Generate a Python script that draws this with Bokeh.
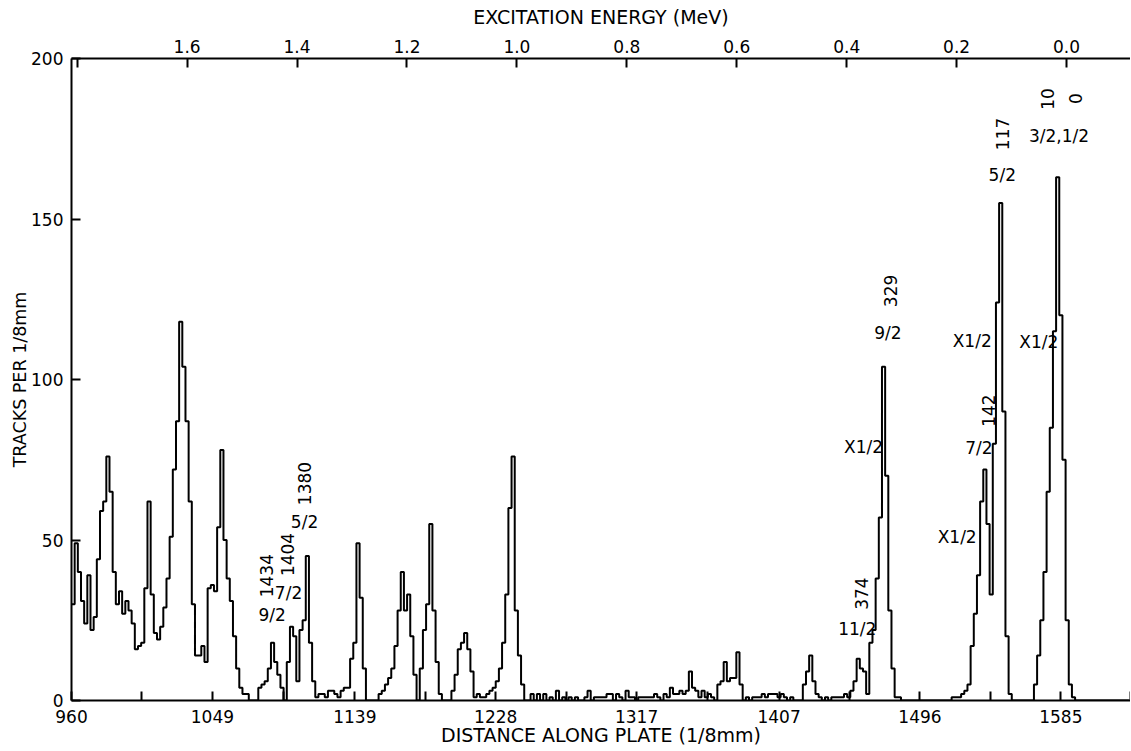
import math
from bokeh.plotting import figure
from bokeh.models import Range1d, LinearAxis, FixedTicker, ColumnDataSource
from bokeh.embed import file_html
from bokeh.resources import INLINE
from bokeh.core.properties import value

# ---------------- data ----------------
bin_start = 960.0      # first bin edge (1/8 mm)
bin_width = 2.0        # bin width (1/8 mm)
counts = [
    30, 49, 40, 31, 24, 39, 22, 26, 44, 59, 62, 76, 65, 40, 30, 34, 27, 31, 28, 24,
    16, 17, 18, 35, 62, 33, 21, 19, 23, 29, 38, 51, 72, 87, 118, 104, 87, 62, 30, 14,
    14, 17, 12, 35, 36, 34, 54, 78, 50, 38, 31, 20, 10, 4, 2, 2, 0, 0, 0, 4,
    5, 6, 10, 18, 12, 8, 4, 0, 12, 23, 20, 6, 22, 25, 45, 18, 6, 1, 2,
    2, 1, 3, 3, 2, 1, 3, 4, 4, 13, 18, 49, 32, 10, 0, 0, 0, 0, 2, 3,
    5, 7, 10, 17, 28, 40, 28, 33, 20, 8, 0, 10, 22, 30, 55, 28, 12, 2, 0, 0,
    0, 3, 8, 16, 18, 21, 16, 9, 1, 2, 1, 1, 2, 3, 4, 6, 10, 18, 33, 60,
    76, 28, 14, 5, 0, 0, 2, 0, 2, 0, 2, 0, 1, 0, 3, 0, 1, 0, 1, 0,
    1, 0, 0, 1, 3, 0, 1, 1, 1, 1, 2, 2, 0, 2, 1, 0, 3, 1, 1, 0,
    1, 1, 1, 1, 1, 2, 1, 0, 2, 1, 4, 2, 2, 3, 2, 3, 9, 4, 3, 1,
    3, 1, 2, 1, 0, 5, 6, 12, 6, 7, 7, 15, 5, 0, 1, 0, 1, 1, 1, 2,
    1, 2, 2, 2, 1, 2, 1, 0, 1, 0, 0, 0, 5, 9, 14, 6, 2, 1, 0,
    1, 0, 1, 1, 1, 1, 2, 1, 3, 6, 13, 10, 9, 2, 18, 22, 38, 57, 104,
    70, 28, 10, 1, 1, 0, 0, 0, 0, 0, 0, 0, 0, 0, 0, 0, 0, 0, 0, 0,
    0, 1, 1, 1, 2, 3, 5, 17, 27, 39, 62, 72, 55, 33, 80, 124, 155, 90, 20, 2,
    0, 0, 0, 0, 0, 0, 0, 5, 14, 25, 40, 65, 85, 115, 163, 120, 75, 25, 5, 1,
    0, 0, 0, 0, 0, 0, 0, 0, 0, 0, 0, 0, 0, 0, 0, 0, 0,
]

dist_ticks = [960, 1049, 1139, 1228, 1317, 1407, 1496, 1585]
dist_minor_ticks = [1004.5, 1094, 1183.5, 1272.5, 1362, 1451.5, 1540.5, 1629]
count_ticks = [0, 50, 100, 150, 200]
energy_ticks = [1.8, 1.6, 1.4, 1.2, 1.0, 0.8, 0.6, 0.4, 0.2, 0.0]
energy_tick_labels = ["", "1.6", "1.4", "1.2", "1.0", "0.8", "0.6", "0.4", "0.2", "0.0"]

# level annotations: text, distance, counts, vertical?
ann_text = ["1434", "9/2", "1404", "7/2", "1380", "5/2",
            "374", "11/2", "X1/2", "9/2", "329",
            "X1/2", "7/2", "142", "X1/2", "5/2", "117",
            "3/2,1/2", "10", "0", "X1/2"]
ann_x = [1083.2, 1086.8, 1096.5, 1097.1, 1106.9, 1107.2,
         1459.3, 1456.4, 1460.4, 1475.7, 1477.3,
         1519.5, 1533.2, 1539.5, 1529.0, 1548.0, 1548.0,
         1583.8, 1576.4, 1594.3, 1571.1]
ann_y = [38.9, 26.5, 45.5, 33.6, 67.6, 55.5,
         33.3, 22.4, 78.9, 114.5, 127.6,
         50.9, 78.7, 90.3, 111.9, 163.6, 176.5,
         175.9, 187.4, 187.5, 111.7]
ann_vertical = [True, False, True, False, True, False,
                True, False, False, False, True,
                False, False, True, False, False, True,
                False, True, True, False]

# ---------------- figure ----------------
FONT = "DejaVu Sans"

p = figure(width=1130, height=751,
           x_range=Range1d(960, 1629), y_range=Range1d(0, 200),
           output_backend="svg", toolbar_location=None,
           min_border_left=71, min_border_top=58, min_border_right=0, min_border_bottom=51)
p.outline_line_color = None
p.xgrid.visible = False
p.ygrid.visible = False
p.background_fill_color = "white"
p.border_fill_color = "white"

edges = [bin_start + bin_width * i for i in range(len(counts) + 1)]
levels = counts + [counts[-1]]
src = ColumnDataSource(dict(x=edges, y=levels))
p.step(x="x", y="y", source=src, mode="after", line_color="black", line_width=2)

asrc = ColumnDataSource(dict(x=ann_x, y=ann_y, text=ann_text,
                             angle=[math.pi / 2 if v else 0.0 for v in ann_vertical]))
p.text(x="x", y="y", text="text", angle="angle", source=asrc,
       text_font=value(FONT), text_font_size="17px", text_color="black",
       text_align="center", text_baseline="middle")

def style_axis(ax, label_size):
    ax.axis_line_color = "black"
    ax.axis_line_width = 2
    ax.major_tick_line_color = "black"
    ax.major_tick_line_width = 2
    ax.minor_tick_line_color = "black"
    ax.minor_tick_line_width = 2
    ax.major_tick_in = 9
    ax.major_tick_out = 0
    ax.minor_tick_in = 9
    ax.minor_tick_out = 0
    ax.major_label_text_font = FONT
    ax.major_label_text_font_size = "17px"
    ax.major_label_text_color = "black"
    ax.axis_label_text_font = FONT
    ax.axis_label_text_font_size = label_size
    ax.axis_label_text_font_style = "normal"
    ax.axis_label_text_color = "black"

xa = p.xaxis[0]
xa.ticker = FixedTicker(ticks=dist_ticks, minor_ticks=dist_minor_ticks)
xa.axis_label = "DISTANCE ALONG PLATE (1/8mm)"
style_axis(xa, "19px")
xa.major_label_standoff = 9
xa.axis_label_standoff = -2

ya = p.yaxis[0]
ya.ticker = FixedTicker(ticks=count_ticks)
ya.axis_label = "TRACKS PER 1/8mm"
style_axis(ya, "17.5px")
ya.major_label_standoff = 8
ya.axis_label_standoff = -2

p.extra_x_ranges = {"energy": Range1d(start=1.8104, end=-0.1164)}
ta = LinearAxis(x_range_name="energy", ticker=FixedTicker(ticks=energy_ticks),
                major_label_overrides={t: s for t, s in zip(energy_ticks, energy_tick_labels)},
                axis_label="EXCITATION ENERGY (MeV)")
style_axis(ta, "19px")
ta.major_label_standoff = 6
ta.axis_label_standoff = 9
p.add_layout(ta, "above")

open("out.html", "w").write(file_html(p, INLINE))
